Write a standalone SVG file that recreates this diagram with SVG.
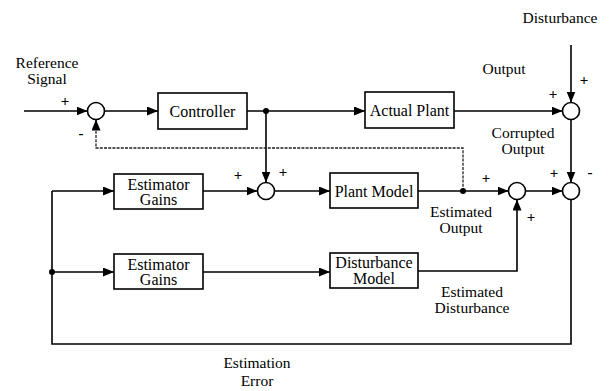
<svg xmlns="http://www.w3.org/2000/svg" width="612" height="391" viewBox="0 0 612 391">
<style>
.ln{stroke:#000;stroke-width:1.6;fill:none}
.ar{marker-end:url(#ah)}
.dot{stroke:#222;stroke-width:1.3;fill:none;stroke-dasharray:3 1.2}
.box{fill:#fff;stroke:#000;stroke-width:1.6}
.sum{fill:#fff;stroke:#000;stroke-width:1.6}
</style>
<defs>
<marker id="ah" markerUnits="userSpaceOnUse" markerWidth="11" markerHeight="9" refX="11" refY="4.5" orient="auto">
<path d="M0,0 L11,4.5 L0,9 z" fill="#000"/>
</marker>
</defs>
<rect width="612" height="391" fill="#fff"/>
<g id="connectors">
<line class="ln ar" x1="24" y1="111" x2="87.5" y2="111"/>
<line class="ln ar" x1="104.5" y1="111" x2="158" y2="111"/>
<line class="ln ar" x1="247" y1="111" x2="365" y2="111"/>
<line class="ln ar" x1="454" y1="111" x2="562.5" y2="111"/>
<line class="ln ar" x1="571" y1="45" x2="571" y2="102.5"/>
<path class="ln ar" d="M571,119.5 L571,182.5"/>
<path class="ln ar" d="M266,111 L266,182.5"/>
<path class="dot" d="M463,191 L463,148 L96,148 L96,128"/>
<path class="ln ar" d="M96,130 L96,119.5"/>
<line class="ln ar" x1="203" y1="191" x2="257.5" y2="191"/>
<line class="ln ar" x1="274.5" y1="191" x2="330" y2="191"/>
<line class="ln ar" x1="418" y1="191" x2="508.5" y2="191"/>
<line class="ln ar" x1="525.5" y1="191" x2="562.5" y2="191"/>
<path class="ln ar" d="M418,271 L517,271 L517,199.5"/>
<path class="ln ar" d="M52,191 L114,191"/>
<path class="ln ar" d="M52,272 L114,272"/>
<line class="ln ar" x1="203" y1="272" x2="330" y2="272"/>
<path class="ln" d="M52,191 L52,344 L571,344 L571,199.5"/>
<circle cx="266" cy="111" r="3" fill="#000"/>
<circle cx="463" cy="191" r="3" fill="#000"/>
<circle cx="52" cy="272" r="3" fill="#000"/>
</g>
<g id="sum1"><circle class="sum" cx="96" cy="111" r="8.5"/></g>
<g id="sum2"><circle class="sum" cx="266" cy="191" r="8.5"/></g>
<g id="sum3"><circle class="sum" cx="571" cy="111" r="8.5"/></g>
<g id="sum4"><circle class="sum" cx="517" cy="191" r="8.5"/></g>
<g id="sum5"><circle class="sum" cx="571" cy="191" r="8.5"/></g>
<g font-family="Liberation Serif, DejaVu Serif, serif" font-size="16" text-anchor="middle" fill="#000">
<g id="controller"><rect class="box" x="158" y="93" width="89" height="36"/><text x="202.5" y="116.5">Controller</text></g>
<g id="actual-plant"><rect class="box" x="365" y="92" width="89" height="36"/><text x="409.5" y="115.5">Actual Plant</text></g>
<g id="estimator-gains-1"><rect class="box" x="114" y="174" width="89" height="35"/><text x="158.5" y="189.5">Estimator</text><text x="158.5" y="205">Gains</text></g>
<g id="estimator-gains-2"><rect class="box" x="114" y="254" width="89" height="35"/><text x="158.5" y="269.5">Estimator</text><text x="158.5" y="285">Gains</text></g>
<g id="plant-model"><rect class="box" x="330" y="173" width="88" height="35"/><text x="374" y="196.5">Plant Model</text></g>
<g id="disturbance-model"><rect class="box" x="330" y="253" width="88" height="35"/><text x="374" y="268">Disturbance</text><text x="374" y="284">Model</text></g>
<g id="labels" font-size="15.5">
<text x="47" y="68">Reference</text>
<text x="47" y="84">Signal</text>
<text x="560" y="23">Disturbance</text>
<text x="504" y="74">Output</text>
<text x="523" y="138">Corrupted</text>
<text x="523" y="154">Output</text>
<text x="461" y="217">Estimated</text>
<text x="461" y="233">Output</text>
<text x="472" y="297">Estimated</text>
<text x="472" y="313">Disturbance</text>
<text x="257" y="368">Estimation</text>
<text x="257" y="386">Error</text>
</g>
<g id="signs" font-size="15" font-weight="bold">
<text x="65" y="106">+</text>
<text x="81" y="138">-</text>
<text x="584" y="85">+</text>
<text x="553" y="99">+</text>
<text x="238" y="180">+</text>
<text x="283" y="177">+</text>
<text x="486" y="183">+</text>
<text x="531" y="222">+</text>
<text x="554" y="178">+</text>
<text x="590" y="177">-</text>
</g>
</g>
</svg>
